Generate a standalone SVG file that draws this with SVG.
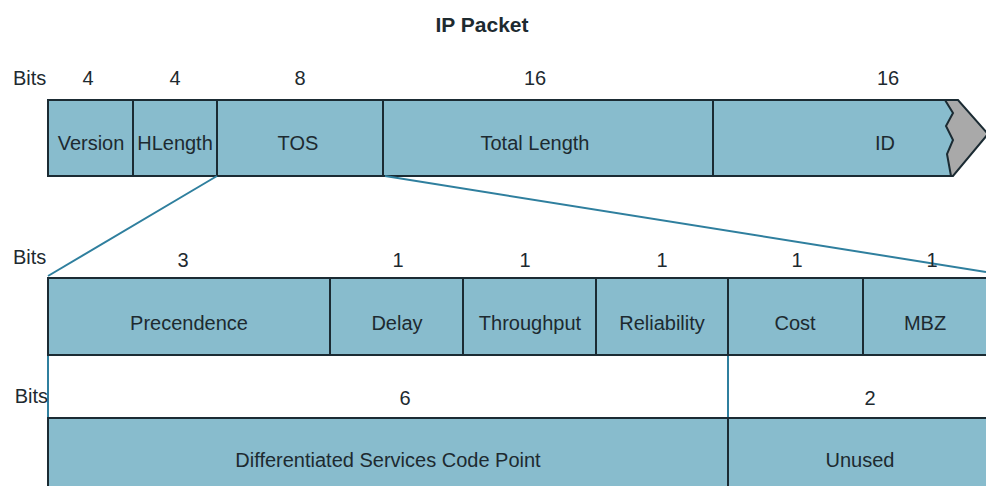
<svg xmlns="http://www.w3.org/2000/svg" width="986" height="486" viewBox="0 0 986 486">
<style>
.f{fill:#88bccd;stroke:#1b2b33;stroke-width:2}
.d{stroke:#1b2b33;stroke-width:2;fill:none}
.t{font-family:"Liberation Sans",Arial,sans-serif;font-size:20px;fill:#1d2a30;text-anchor:middle}
.b{font-family:"Liberation Sans",Arial,sans-serif;font-size:20px;fill:#1d2a30}
.c{stroke:#2f7f9e;stroke-width:2;fill:none}
</style>
<rect width="986" height="486" fill="#ffffff"/>
<text x="482" y="32" class="t" style="font-weight:bold;font-size:21px">IP Packet</text>
<g id="top-row">
<text x="13" y="85" class="b">Bits</text>
<text x="88" y="85" class="t">4</text>
<text x="175" y="85" class="t">4</text>
<text x="300" y="85" class="t">8</text>
<text x="535" y="85" class="t">16</text>
<text x="888" y="85" class="t">16</text>
<path d="M48,100 L958,100 L988,134 L953,176 L48,176 Z" fill="#a9a9a9" stroke="#1b2b33" stroke-width="2"/>
<path d="M48,100 L945,100 L953,113 L946,126 L953,140 L947,154 L951,176 L48,176 Z" fill="#88bccd" stroke="none"/>
<path d="M945,100 L953,113 L946,126 L953,140 L947,154 L951,176" class="d"/>
<path d="M48,100 L958,100 M48,176 L953,176 M48,100 L48,176" class="d"/>
<path d="M133,100 V176 M217,100 V176 M383,100 V176 M713,100 V176" class="d"/>
<text x="91" y="150" class="t">Version</text>
<text x="175" y="150" class="t">HLength</text>
<text x="298" y="150" class="t">TOS</text>
<text x="535" y="150" class="t">Total Length</text>
<text x="885" y="150" class="t">ID</text>
</g>
<g id="connectors">
<path d="M217,176 L48,276" class="c"/>
<path d="M385,176 L986,272" class="c"/>
<path d="M48,355 V418" class="c"/>
<path d="M728,355 V418" class="c"/>
</g>
<g id="tos-row">
<text x="13" y="264" class="b">Bits</text>
<text x="183" y="267" class="t">3</text>
<text x="398" y="267" class="t">1</text>
<text x="525" y="267" class="t">1</text>
<text x="662" y="267" class="t">1</text>
<text x="797" y="267" class="t">1</text>
<text x="932" y="267" class="t">1</text>
<rect x="48" y="278" width="950" height="77" class="f"/>
<path d="M330,278 V355 M463,278 V355 M596,278 V355 M728,278 V355 M863,278 V355" class="d"/>
<text x="189" y="330" class="t">Precendence</text>
<text x="397" y="330" class="t">Delay</text>
<text x="530" y="330" class="t">Throughput</text>
<text x="662" y="330" class="t">Reliability</text>
<text x="795" y="330" class="t">Cost</text>
<text x="925" y="330" class="t">MBZ</text>
</g>
<g id="dscp-row">
<text x="48" y="403" class="b" style="text-anchor:end">Bits</text>
<text x="405" y="405" class="t">6</text>
<text x="870" y="405" class="t">2</text>
<rect x="48" y="418" width="950" height="80" class="f"/>
<path d="M728,418 V486" class="d"/>
<text x="388" y="467" class="t">Differentiated Services Code Point</text>
<text x="860" y="467" class="t">Unused</text>
</g>
</svg>
